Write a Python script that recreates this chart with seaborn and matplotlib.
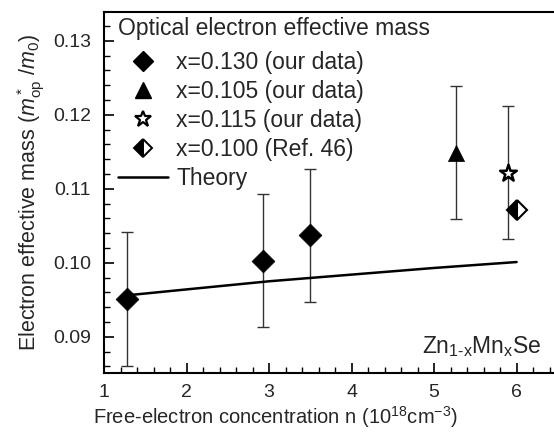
import numpy as np
import pandas as pd
import seaborn as sns
import matplotlib
matplotlib.use("Agg")
import matplotlib.pyplot as plt
from matplotlib.lines import Line2D
from matplotlib.ticker import MultipleLocator, FormatStrFormatter

# Measured effective masses
series = ["x=0.130 (our data)", "x=0.130 (our data)", "x=0.130 (our data)",
          "x=0.105 (our data)", "x=0.115 (our data)"]
conc = [1.28, 2.93, 3.50, 5.26, 5.89]
mass = [0.0951, 0.1003, 0.1037, 0.1149, 0.1122]
mass_err = [0.009, 0.009, 0.009, 0.009, 0.009]

# Literature point (Ref. 46)
ref_conc = [6.0]
ref_mass = [0.1071]

# Theoretical curve
theory_conc = [1.28, 2.0, 3.0, 4.0, 5.0, 6.0]
theory_mass = [0.0956, 0.0964, 0.0975, 0.0984, 0.0993, 0.1001]

sns.set_theme(style="ticks")
plt.rcParams["font.family"] = ["Liberation Sans", "DejaVu Sans"]
plt.rcParams["mathtext.fontset"] = "custom"
plt.rcParams["mathtext.rm"] = "Liberation Sans"
plt.rcParams["mathtext.it"] = "Liberation Sans:italic"
plt.rcParams["mathtext.bf"] = "Liberation Sans:bold"

fig = plt.figure(figsize=(5.54, 4.36), dpi=100)
ax_w = 1 - 104 / 554 + 0.01
ax = fig.add_axes([104 / 554, 1 - 373 / 436, ax_w, (373 - 12) / 436])

df = pd.DataFrame({"n": conc, "m": mass, "err": mass_err, "series": series})
th = pd.DataFrame({"n": theory_conc, "m": theory_mass})

# error bars
ax.errorbar(df["n"], df["m"], yerr=df["err"], fmt="none", ecolor="#333333",
            elinewidth=1.0, capsize=4, capthick=1.0, zorder=2)

# theory line
sns.lineplot(data=th, x="n", y="m", color="black", linewidth=1.8, ax=ax,
             legend=False, zorder=3)

markers = {"x=0.130 (our data)": "D", "x=0.105 (our data)": "^",
           "x=0.115 (our data)": "*"}
for name, mk in markers.items():
    sub = df[df["series"] == name]
    if mk == "*":
        sns.scatterplot(data=sub, x="n", y="m", marker="*", s=160,
                        facecolor="white", edgecolor="black", linewidth=1.8,
                        ax=ax, legend=False, zorder=4)
    else:
        sns.scatterplot(data=sub, x="n", y="m", marker=mk, s=135,
                        color="black", edgecolor="black", linewidth=0.5,
                        ax=ax, legend=False, zorder=4)

ax.plot(ref_conc, ref_mass, linestyle="none", marker="D", markersize=10,
        fillstyle="left", markerfacecolor="black", markerfacecoloralt="white",
        markeredgecolor="black", markeredgewidth=1.5, zorder=4)

ax.set_xlim(1.0, 6.52)
ax.set_ylim(0.0851, 0.1339)
ax.xaxis.set_major_locator(MultipleLocator(1))
ax.xaxis.set_minor_locator(MultipleLocator(0.2))
ax.yaxis.set_major_locator(MultipleLocator(0.01))
ax.yaxis.set_minor_locator(MultipleLocator(0.002))
ax.yaxis.set_major_formatter(FormatStrFormatter("%.2f"))
ax.tick_params(which="both", direction="in", color="black", labelsize=14,
               top=False, right=False)
ax.tick_params(which="major", length=7, width=1.2)
ax.tick_params(axis="y", which="major", pad=9.5)
ax.tick_params(axis="x", which="major", pad=8)
ax.tick_params(which="minor", length=4, width=1.0)
for s in ["left", "bottom", "top"]:
    ax.spines[s].set_linewidth(1.5)
    ax.spines[s].set_color("black")
ax.spines["right"].set_visible(False)

ax.set_xlabel(r"Free-electron concentration n (10$^{18}$cm$^{-3}$)", fontsize=14.5,
              labelpad=1)
ax.xaxis.set_label_coords((275 - 104) / (ax_w * 554), -0.085)
ax.set_ylabel(r"Electron effective mass ($m^*_{\mathrm{op}}$ /$m_0$)", fontsize=15.5,
              labelpad=4)

ax.text(6.30, 0.0878, r"Zn$_{\mathrm{1\text{-}x}}$Mn$_{\mathrm{x}}$Se", fontsize=16.5,
        ha="right", va="baseline")

handles = [
    Line2D([], [], linestyle="none", marker="D", markersize=10, color="black"),
    Line2D([], [], linestyle="none", marker="^", markersize=11, color="black"),
    Line2D([], [], linestyle="none", marker="*", markersize=12,
           markerfacecolor="white", markeredgecolor="black", markeredgewidth=1.6),
    Line2D([], [], linestyle="none", marker="D", markersize=9, fillstyle="left",
           markerfacecolor="black", markerfacecoloralt="white",
           markeredgecolor="black", markeredgewidth=1.4),
    Line2D([], [], color="black", linewidth=1.8),
]
labels = ["x=0.130 (our data)", "x=0.105 (our data)", "x=0.115 (our data)",
          "x=0.100 (Ref. 46)", "Theory"]
leg = ax.legend(handles, labels, title="Optical electron effective mass",
                loc="upper left", bbox_to_anchor=(0.0255, 0.992), frameon=False,
                fontsize=16.5, title_fontsize=16.5, handlelength=2.2,
                handletextpad=0.35, labelspacing=0.26, borderaxespad=0.0,
                borderpad=0.1)
leg._legend_box.align = "left"
# wider gap between the title and the entries
leg._legend_box.sep = 0.26 * 16.5 + 3.5

fig.savefig("out.png", dpi=100)
